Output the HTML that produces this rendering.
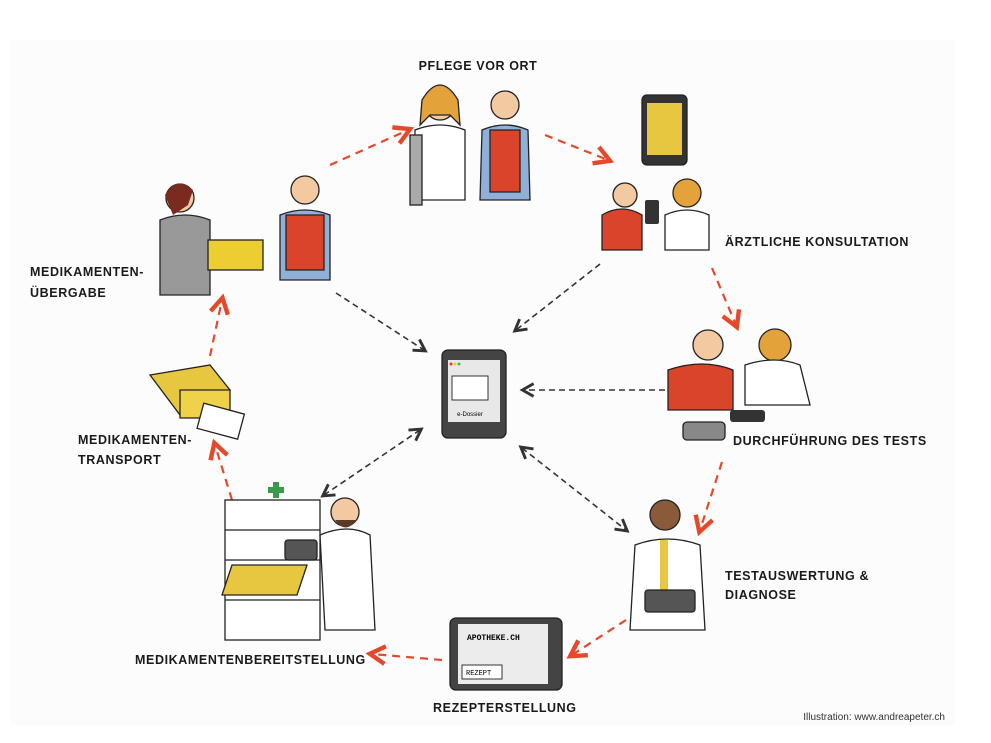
<!DOCTYPE html>
<html><head><meta charset="utf-8"><style>
html,body{margin:0;padding:0;background:#fff;}
svg{display:block;}
.l{font-family:"Liberation Sans",sans-serif;font-weight:bold;font-size:12.5px;fill:#1a1a1a;letter-spacing:0.6px;}
.s{font-family:"Liberation Sans",sans-serif;font-size:10px;fill:#333;}
.r{stroke:#e5482b;stroke-width:2.2;stroke-dasharray:8 6;fill:none;}
.k{stroke:#333;stroke-width:1.6;stroke-dasharray:6 4;fill:none;}
.o{stroke:#222;stroke-width:1.3;}
</style></head><body>
<svg width="991" height="743" viewBox="0 0 991 743">
<defs>
<marker id="ar" markerWidth="10" markerHeight="10" refX="7" refY="5" orient="auto"><path d="M1,1 L8,5 L1,9" fill="none" stroke="#e5482b" stroke-width="2"/></marker>
<marker id="ak" markerWidth="10" markerHeight="10" refX="7" refY="5" orient="auto-start-reverse"><path d="M1,1 L8,5 L1,9" fill="none" stroke="#333" stroke-width="1.8"/></marker>
</defs>
<rect x="10" y="40" width="945" height="685" fill="#fcfcfc"/>

<!-- red arrows -->
<path class="r" d="M330,165 L408,130" marker-end="url(#ar)"/>
<path class="r" d="M545,135 L608,160" marker-end="url(#ar)"/>
<path class="r" d="M712,268 L736,325" marker-end="url(#ar)"/>
<path class="r" d="M722,462 L700,530" marker-end="url(#ar)"/>
<path class="r" d="M626,620 L572,655" marker-end="url(#ar)"/>
<path class="r" d="M442,660 L372,654" marker-end="url(#ar)"/>
<path class="r" d="M232,500 L215,445" marker-end="url(#ar)"/>
<path class="r" d="M210,356 L222,300" marker-end="url(#ar)"/>

<!-- black arrows -->
<path class="k" d="M336,293 L424,350" marker-end="url(#ak)"/>
<path class="k" d="M600,264 L516,330" marker-end="url(#ak)"/>
<path class="k" d="M665,390 L524,390" marker-end="url(#ak)"/>
<path class="k" d="M522,448 L626,530" marker-start="url(#ak)" marker-end="url(#ak)"/>
<path class="k" d="M324,495 L420,430" marker-start="url(#ak)" marker-end="url(#ak)"/>

<!-- center tablet -->
<rect x="442" y="350" width="64" height="88" rx="6" fill="#444" class="o"/>
<rect x="448" y="360" width="52" height="62" fill="#e8e8e8"/>
<rect x="452" y="376" width="36" height="24" fill="#fff" stroke="#333"/>
<text x="470" y="416" font-size="6" text-anchor="middle" font-family="Liberation Sans">e-Dossier</text>
<circle cx="451" cy="364" r="1.5" fill="#e33"/><circle cx="455" cy="364" r="1.5" fill="#ec3"/><circle cx="459" cy="364" r="1.5" fill="#4b4"/>

<!-- Pflege vor Ort -->
<circle cx="440" cy="105" r="15" fill="#f2c9a0" class="o"/><path d="M422,100 q18,-30 36,0 l2,25 -10,-10 -20,0 -10,10z" fill="#e4a33a" class="o"/>
<path d="M415,130 q25,-10 50,0 l0,70 -50,0z" fill="#fff" class="o"/>
<rect x="410" y="135" width="12" height="70" fill="#aaa" class="o"/>
<circle cx="505" cy="105" r="14" fill="#f2c9a0" class="o"/>
<path d="M482,130 q23,-10 46,0 l2,70 -50,0z" fill="#8fb1d9" class="o"/>
<path d="M490,130 l30,0 0,62 -30,0z" fill="#d9442b" class="o"/>

<!-- Konsultation -->
<rect x="642" y="95" width="45" height="70" rx="5" fill="#333" class="o"/>
<rect x="647" y="103" width="35" height="52" fill="#e7c640"/>
<circle cx="625" cy="195" r="12" fill="#f2c9a0" class="o"/>
<path d="M602,215 q20,-12 40,0 l0,35 -40,0z" fill="#d9442b" class="o"/>
<circle cx="687" cy="193" r="14" fill="#e4a33a" class="o"/>
<path d="M665,215 q22,-10 44,0 l0,35 -44,0z" fill="#fff" class="o"/>
<rect x="645" y="200" width="14" height="24" rx="2" fill="#333"/>

<!-- Durchführung -->
<circle cx="708" cy="345" r="15" fill="#f2c9a0" class="o"/>
<path d="M668,370 q35,-12 65,0 l0,40 -65,0z" fill="#d9442b" class="o"/>
<circle cx="775" cy="345" r="16" fill="#e4a33a" class="o"/>
<path d="M745,365 q30,-10 55,0 l10,40 -65,0z" fill="#fff" class="o"/>
<rect x="683" y="422" width="42" height="18" rx="4" fill="#888" class="o"/>
<rect x="730" y="410" width="35" height="12" rx="3" fill="#333"/>

<!-- Testauswertung -->
<circle cx="665" cy="515" r="15" fill="#8a5a3a" class="o"/>
<path d="M635,545 q32,-12 65,0 l5,85 -75,0z" fill="#fff" class="o"/>
<rect x="660" y="540" width="8" height="50" fill="#e7c640"/>
<rect x="645" y="590" width="50" height="22" rx="3" fill="#555" class="o"/>

<!-- Rezept tablet -->
<rect x="450" y="618" width="112" height="72" rx="6" fill="#444" class="o"/>
<rect x="458" y="624" width="90" height="60" fill="#ececec"/>
<text x="467" y="640" font-size="8" font-family="Liberation Mono" font-weight="bold">APOTHEKE.CH</text>
<rect x="462" y="665" width="40" height="14" fill="#fff" stroke="#333"/>
<text x="466" y="675" font-size="7" font-family="Liberation Mono">REZEPT</text>

<!-- Bereitstellung -->
<rect x="225" y="500" width="95" height="140" fill="#fff" class="o"/>
<line x1="225" y1="530" x2="320" y2="530" class="o"/><line x1="225" y1="560" x2="320" y2="560" class="o"/><line x1="225" y1="600" x2="320" y2="600" class="o"/>
<path d="M232,565 l75,0 -10,30 -75,0z" fill="#e7c640" class="o"/>
<path d="M268,490 h16 M276,482 v16" stroke="#3a9a4a" stroke-width="6"/>
<circle cx="345" cy="512" r="14" fill="#f2c9a0" class="o"/><path d="M335,520 q10,15 22,0" fill="#5a3a22"/>
<path d="M320,535 q28,-12 50,0 l5,95 -50,0z" fill="#fff" class="o"/>
<rect x="285" y="540" width="32" height="20" rx="3" fill="#555" class="o"/>

<!-- Transport -->
<path d="M150,375 l60,-10 20,25 -50,25z" fill="#e7c640" class="o"/>
<path d="M180,390 l50,0 0,28 -50,0z" fill="#f0d24a" class="o"/>
<rect x="200" y="408" width="42" height="26" fill="#fff" class="o" transform="rotate(15 220 420)"/>

<!-- Übergabe -->
<circle cx="180" cy="198" r="14" fill="#f2c9a0" class="o"/><path d="M165,195 q12,-20 28,-5 l-5,15 -15,10z" fill="#7a2a1e"/>
<path d="M160,220 q25,-10 50,0 l0,75 -50,0z" fill="#999" class="o"/>
<rect x="208" y="240" width="55" height="30" fill="#ecce32" class="o"/>
<circle cx="305" cy="190" r="14" fill="#f2c9a0" class="o"/>
<path d="M280,215 q25,-10 50,0 l0,65 -50,0z" fill="#8fb1d9" class="o"/>
<path d="M286,215 l38,0 0,55 -38,0z" fill="#d9442b" class="o"/>

<!-- labels -->
<text class="l" x="478" y="70" text-anchor="middle">PFLEGE VOR ORT</text>
<text class="l" x="725" y="246">ÄRZTLICHE KONSULTATION</text>
<text class="l" x="30" y="276">MEDIKAMENTEN-</text>
<text class="l" x="30" y="297">ÜBERGABE</text>
<text class="l" x="733" y="445">DURCHFÜHRUNG DES TESTS</text>
<text class="l" x="78" y="444">MEDIKAMENTEN-</text>
<text class="l" x="78" y="464">TRANSPORT</text>
<text class="l" x="725" y="580">TESTAUSWERTUNG &amp;</text>
<text class="l" x="725" y="599">DIAGNOSE</text>
<text class="l" x="135" y="664">MEDIKAMENTENBEREITSTELLUNG</text>
<text class="l" x="433" y="712">REZEPTERSTELLUNG</text>
<text class="s" x="945" y="720" text-anchor="end">Illustration: www.andreapeter.ch</text>
</svg>
</body></html>
